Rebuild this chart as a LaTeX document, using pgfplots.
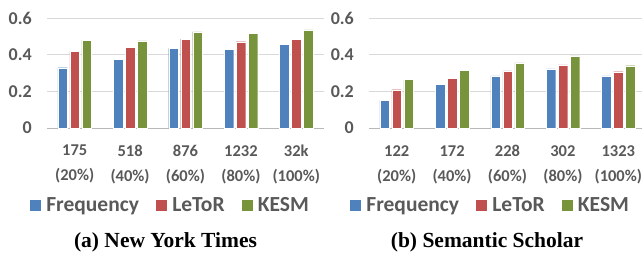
\documentclass[border=0pt]{standalone}
\usepackage{fontspec}
\setmainfont{Carlito}
\newfontfamily\capfont{Liberation Serif}
\usepackage{pgfplots}
\pgfplotsset{compat=1.18}
\definecolor{cblue}{HTML}{4F81BD}
\definecolor{cred}{HTML}{C0504D}
\definecolor{cgreen}{HTML}{77933C}
\definecolor{ctext}{HTML}{595959}
\definecolor{cgrid}{HTML}{D9D9D9}
\pgfplotsset{mystyle/.style={
  scale only axis, width=277pt, height=110pt,
  ymin=0, ymax=0.6, xmin=-0.5, xmax=4.5,
  ytick={0,0.2,0.4,0.6},
  xtick={0,...,4},
  ybar=2.5pt, bar width=9.5pt,
  axis x line=bottom, axis y line=left,
  y axis line style={draw=none},
  x axis line style={-, draw=cgrid!85!black, line width=0.8pt},
  major tick length=0pt,
  ymajorgrids, grid style={cgrid, line width=0.8pt},
  /pgf/number format/assume math mode=true,
  yticklabel style={anchor=east, inner sep=0pt, xshift=-15pt, font=\bfseries\fontsize{18}{20}\selectfont, text=ctext},
  xticklabel style={align=center, anchor=north, inner sep=0pt, yshift=-17pt, font=\bfseries\fontsize{16.5}{25}\selectfont, text=ctext},
  legend columns=3,
  legend style={draw=none, fill=none, font=\bfseries\fontsize{21.5}{24}\selectfont, text=ctext, anchor=center, /tikz/every even column/.append style={column sep=14pt}},
  legend image code/.code={\fill[##1] (0pt,-6pt) rectangle (12pt,6pt); \path (15pt,0pt);},
}}
\begin{document}
\begin{tikzpicture}
\useasboundingbox (0,0) rectangle (642pt,255pt);
\begin{axis}[mystyle, at={(47pt,127pt)}, anchor=south west,
  xticklabels={{175\\(20\%)},{518\\(40\%)},{876\\(60\%)},{1232\\(80\%)},{32k\\(100\%)}},
  legend style={at={(0.444,-0.70)}}]
\addplot[fill=cblue, draw=white, line width=0.25pt] coordinates {(0,0.329) (1,0.376) (2,0.435) (3,0.429) (4,0.455)};
\addplot[fill=cred, draw=white, line width=0.25pt] coordinates {(0,0.418) (1,0.440) (2,0.485) (3,0.471) (4,0.484)};
\addplot[fill=cgreen, draw=white, line width=0.25pt] coordinates {(0,0.480) (1,0.475) (2,0.525) (3,0.518) (4,0.535)};
\legend{Frequency, LeToR, KESM}
\end{axis}
\begin{axis}[mystyle, at={(369pt,127pt)}, anchor=south west,
  xticklabels={{122\\(20\%)},{172\\(40\%)},{228\\(60\%)},{302\\(80\%)},{1323\\(100\%)}},
  legend style={at={(0.437,-0.70)}}]
\addplot[fill=cblue, draw=white, line width=0.25pt] coordinates {(0,0.151) (1,0.238) (2,0.284) (3,0.322) (4,0.285)};
\addplot[fill=cred, draw=white, line width=0.25pt] coordinates {(0,0.209) (1,0.271) (2,0.311) (3,0.345) (4,0.307)};
\addplot[fill=cgreen, draw=white, line width=0.25pt] coordinates {(0,0.264) (1,0.315) (2,0.355) (3,0.393) (4,0.340)};
\legend{Frequency, LeToR, KESM}
\end{axis}
\node[font=\capfont\bfseries\fontsize{21.5}{24}\selectfont, inner sep=0pt] at (165.5pt,13pt) {(a) New York Times};
\node[font=\capfont\bfseries\fontsize{21.5}{24}\selectfont, inner sep=0pt] at (487pt,13pt) {(b) Semantic Scholar};
\end{tikzpicture}
\end{document}
